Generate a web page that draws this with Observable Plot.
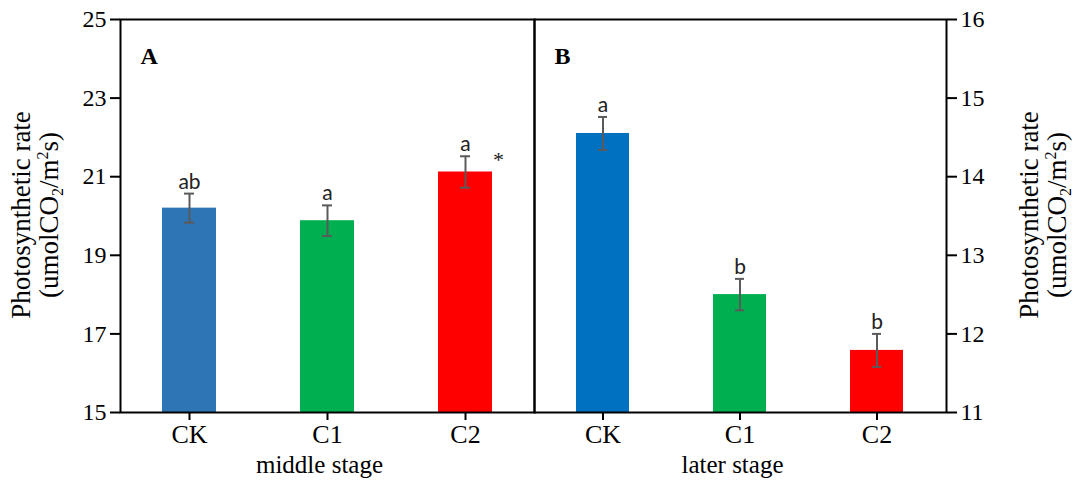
<!DOCTYPE html>
<html>
<head>
<meta charset="utf-8">
<script src="https://cdn.jsdelivr.net/npm/d3@7"></script>
<script src="https://cdn.jsdelivr.net/npm/@observablehq/plot@0.6"></script>
<style>
  body { margin: 0; background: #fff; }
  #chart { position: relative; width: 1080px; height: 494px; }
  #chart svg { position: absolute; top: 0; overflow: visible; }
</style>
</head>
<body>
<div id="chart"></div>
<script>
// Treatments and photosynthetic rates (mean ± SE) at two growth stages
const treatments = ["CK", "C1", "C2"];

const middleRate = [20.2, 19.88, 21.12];
const middleErr = [0.37, 0.39, 0.40];
const middleLetters = ["ab", "a", "a"];
const middleSignif = ["", "", "*"];
const middleTicks = [15, 17, 19, 21, 23, 25];
const middleColors = ["#2e75b6", "#00b050", "#ff0000"];

const laterRate = [14.55, 12.5, 11.79];
const laterErr = [0.21, 0.20, 0.21];
const laterLetters = ["a", "b", "b"];
const laterSignif = ["", "", ""];
const laterTicks = [11, 12, 13, 14, 15, 16];
const laterColors = ["#0070c0", "#00b050", "#ff0000"];

const serif = "'Liberation Serif', 'Times New Roman', serif";
const sans = "Lato, 'Open Sans', sans-serif";
const errColor = "#5a5a5a";

function panel({rates, errs, letters, signif, colors, ticks, stage, tag, side, width, marginLeft, marginRight}) {
  const rows = treatments.map((t, i) => ({
    t, v: rates[i], lo: rates[i] - errs[i], hi: rates[i] + errs[i],
    letter: letters[i], sig: signif[i], color: colors[i]
  }));
  const base = ticks[0];
  return Plot.plot({
    width, height: 494,
    marginTop: 19, marginBottom: 82, marginLeft, marginRight,
    style: {fontFamily: serif, background: "transparent", color: "#000", overflow: "visible"},
    x: {domain: treatments, paddingInner: 0.61, paddingOuter: 0.305, label: null},
    y: {domain: [ticks[0], ticks[ticks.length - 1]], label: null},
    marks: [
      Plot.barY(rows, {x: "t", y1: base, y2: "v", fill: "color"}),
      Plot.ruleX(rows, {x: "t", y1: "lo", y2: "hi", stroke: errColor, strokeWidth: 2}),
      Plot.tickY(rows, {x: "t", y: "hi", stroke: errColor, strokeWidth: 2, insetLeft: 22, insetRight: 22}),
      Plot.tickY(rows, {x: "t", y: "lo", stroke: errColor, strokeWidth: 2, insetLeft: 22, insetRight: 22}),
      Plot.text(rows, {x: "t", y: "hi", text: "letter", dy: -5, lineAnchor: "bottom", fontFamily: sans, fontSize: 21, fill: "#222"}),
      Plot.text(rows, {x: "t", y: "hi", text: "sig", dx: 33, dy: 4, fontSize: 22, fill: "#222"}),
      Plot.frame({stroke: "#000", strokeWidth: 2}),
      Plot.axisY({anchor: side, ticks, tickFormat: "d", tickSize: 10, tickPadding: 4, fontSize: 24, strokeWidth: 2, label: null}),
      Plot.axisX({tickSize: 8, tickPadding: 4, fontSize: 26, strokeWidth: 2, label: null}),
      Plot.text([stage], {frameAnchor: "bottom", dx: -8, dy: 60, fontSize: 25}),
      Plot.text([tag], {frameAnchor: "top-left", dx: 20, dy: 27, fontSize: 24, fontWeight: "bold"})
    ]
  });
}

// Two-line rotated axis title with CO2 subscript and m2 superscript
function yTitle(svg, x, y) {
  const g = d3.select(svg).append("g")
    .attr("transform", `translate(${x},${y}) rotate(-90)`)
    .attr("font-family", serif).attr("font-size", 27).attr("fill", "#000")
    .attr("text-anchor", "middle");
  g.append("text").attr("y", 0).text("Photosynthetic rate");
  const t = g.append("text").attr("y", 28);
  t.append("tspan").text("(umolCO");
  t.append("tspan").attr("font-size", 16).attr("dy", 5).text("2");
  t.append("tspan").attr("dy", -5).text("/m");
  t.append("tspan").attr("font-size", 16).attr("dy", -10).text("2");
  t.append("tspan").attr("dy", 10).text("s)");
}

const chart = document.getElementById("chart");

const left = panel({
  rates: middleRate, errs: middleErr, letters: middleLetters, signif: middleSignif,
  colors: middleColors, ticks: middleTicks, stage: "middle stage", tag: "A",
  side: "left", width: 534, marginLeft: 120, marginRight: 0
});
left.style.left = "0px";
chart.appendChild(left);
yTitle(left, 30, 215);

const right = panel({
  rates: laterRate, errs: laterErr, letters: laterLetters, signif: laterSignif,
  colors: laterColors, ticks: laterTicks, stage: "later stage", tag: "B",
  side: "right", width: 546, marginLeft: 0, marginRight: 134
});
right.style.left = "534px";
chart.appendChild(right);
yTitle(right, 1038 - 534, 215);
</script>
</body>
</html>
